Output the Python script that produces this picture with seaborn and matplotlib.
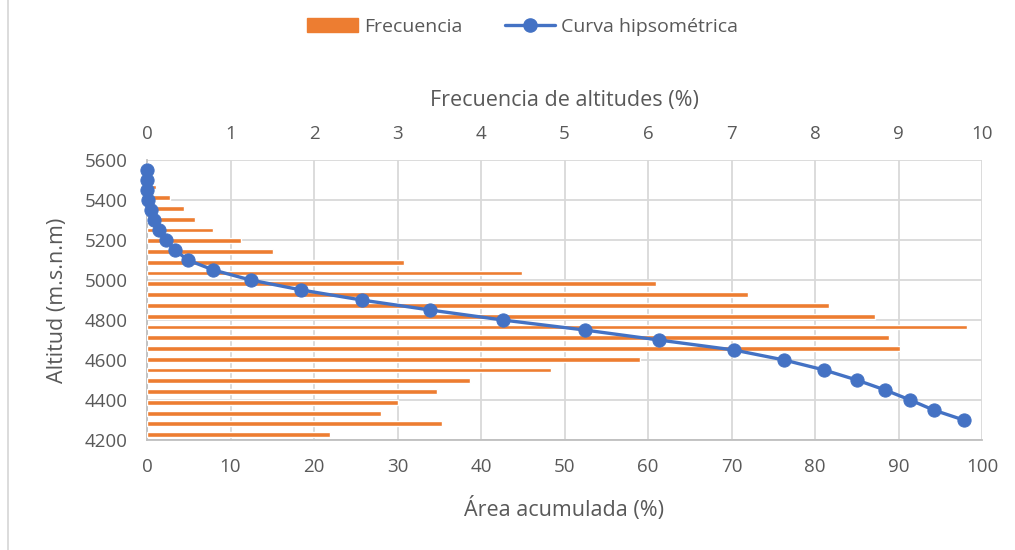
import matplotlib
matplotlib.use("Agg")
import matplotlib.pyplot as plt
from matplotlib.lines import Line2D
from matplotlib.patches import Patch
import seaborn as sns

# Altitude bands (m.s.n.m), highest first
bandas = ["5550-5600", "5500-5550", "5450-5500", "5400-5450", "5350-5400",
          "5300-5350", "5250-5300", "5200-5250", "5150-5200", "5100-5150",
          "5050-5100", "5000-5050", "4950-5000", "4900-4950", "4850-4900",
          "4800-4850", "4750-4800", "4700-4750", "4650-4700", "4600-4650",
          "4550-4600", "4500-4550", "4450-4500", "4400-4450", "4350-4400",
          "4300-4350"]
# Share of the basin area in each band (%)
frecuencia = [0.01, 0.04, 0.11, 0.27, 0.44, 0.575, 0.79, 1.12, 1.51, 3.08,
              4.49, 6.09, 7.20, 8.17, 8.72, 9.82, 8.89, 9.02, 5.91, 4.84,
              3.87, 3.47, 3.01, 2.80, 3.53, 2.19]

# Hypsometric curve: altitude vs. accumulated area above it
altitud = [5550, 5500, 5450, 5400, 5350, 5300, 5250, 5200, 5150, 5100,
           5050, 5000, 4950, 4900, 4850, 4800, 4750, 4700, 4650, 4600,
           4550, 4500, 4450, 4400, 4350, 4300]
area_acumulada = [0.0, 0.01, 0.05, 0.16, 0.43, 0.87, 1.45, 2.24, 3.36, 4.87,
                  7.95, 12.4, 18.5, 25.7, 33.9, 42.6, 52.4, 61.3, 70.3, 76.3,
                  81.1, 85.0, 88.4, 91.4, 94.2, 97.8]

ticks_altitud = [4200, 4400, 4600, 4800, 5000, 5200, 5400, 5600]
ticks_area = list(range(0, 101, 10))
ticks_frec = list(range(0, 11))

naranja = "#ED7D31"
azul = "#4472C4"
gris_txt = "#595959"
gris_grid = "#D9D9D9"
gris_eje = "#BFBFBF"

sns.set_theme(style="white")
plt.rcParams["font.family"] = ["Open Sans", "DejaVu Sans"]

W, H = 1015, 550
fig = plt.figure(figsize=(W / 100, H / 100), dpi=100)
fig.patch.set_facecolor("white")
pos = [147 / W, 1 - 440 / H, (982 - 147) / W, 280 / H]

# Base axes: altitude / accumulated-area scales and grid
ax = fig.add_axes(pos, zorder=0)
ax.set_xlim(0, 100)
ax.set_ylim(4200, 5600)
ax.set_xticks(ticks_area)
ax.set_yticks(ticks_altitud)
ax.grid(True, color=gris_grid, lw=1.3)
ax.tick_params(axis="both", length=0, labelsize=13.5, labelcolor=gris_txt)
ax.tick_params(axis="x", pad=13)
ax.tick_params(axis="y", pad=14)
for s in ["top", "right"]:
    ax.spines[s].set_visible(False)
for s in ["left", "bottom"]:
    ax.spines[s].set_color(gris_eje)
    ax.spines[s].set_linewidth(1.3)
ax.set_xlabel("Área acumulada (%)", fontsize=15.5, color=gris_txt, labelpad=15)
ax.set_ylabel("Altitud (m.s.n.m)", fontsize=15.5, color=gris_txt, labelpad=12)

# Frequency bars on the top scale
ax_bar = fig.add_axes(pos, zorder=1)
ax_bar.patch.set_alpha(0)
sns.barplot(x=frecuencia, y=bandas, orient="h", color=naranja, width=0.45,
            saturation=1, ax=ax_bar)
ax_bar.set_xlim(0, 10)
ax_bar.set_ylim(len(bandas) - 0.5, -0.5)
ax_bar.set_yticks([])
ax_bar.set_ylabel("")
ax_bar.xaxis.tick_top()
ax_bar.xaxis.set_label_position("top")
ax_bar.set_xticks(ticks_frec)
ax_bar.tick_params(axis="x", length=0, labelsize=13.5, labelcolor=gris_txt, pad=12)
ax_bar.set_xlabel("Frecuencia de altitudes (%)", fontsize=15.5, color=gris_txt,
                  labelpad=14)
for s in ax_bar.spines.values():
    s.set_visible(False)

# Hypsometric curve drawn above the bars
ax_line = fig.add_axes(pos, zorder=2, sharex=ax, sharey=ax)
ax_line.patch.set_alpha(0)
sns.lineplot(x=area_acumulada, y=altitud, sort=False, color=azul, lw=2.4,
             marker="o", markersize=9.5, markeredgecolor=azul, ax=ax_line,
             clip_on=False)
ax_line.axis("off")

handles = [Patch(facecolor=naranja, edgecolor=naranja),
           Line2D([], [], color=azul, lw=2.4, marker="o", markersize=9.5)]
fig.legend(handles, ["Frecuencia", "Curva hipsométrica"], loc="center",
           bbox_to_anchor=(0.515, 1 - 27 / H), ncol=2, frameon=False,
           fontsize=14, labelcolor=gris_txt, handlelength=2.6,
           handletextpad=0.3, columnspacing=2.2)

# Left edge of the chart frame
fig.add_artist(Line2D([8 / W, 8 / W], [0, 1], color=gris_grid, lw=1.3))

fig.savefig("out.png", dpi=100)
